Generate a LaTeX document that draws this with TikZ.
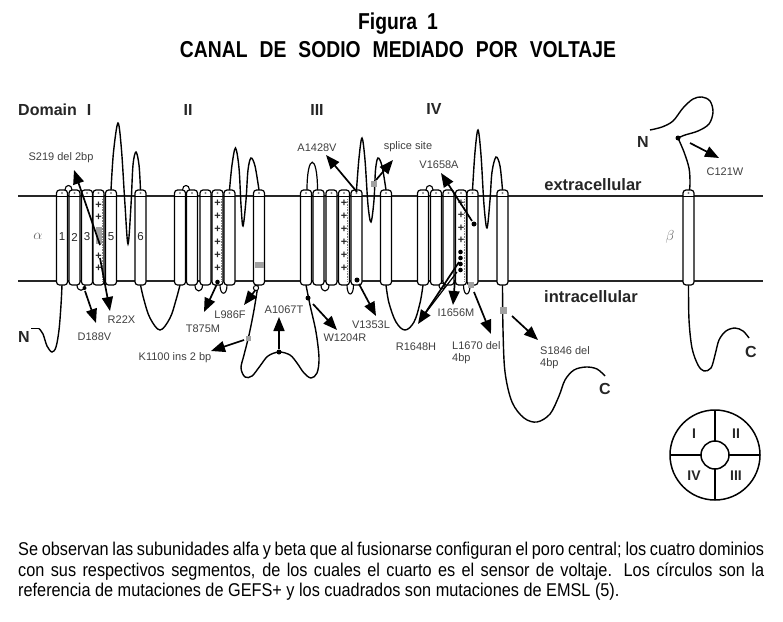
\documentclass[tikz,border=0pt]{standalone}
\usepackage{fontspec}
\setmainfont{Liberation Sans}
\newfontfamily\ttlfont{Liberation Sans}[FakeStretch=0.84]
\newfontfamily\capfont{Liberation Sans}[FakeStretch=0.88]
\usetikzlibrary{arrows.meta}
\definecolor{lbl}{HTML}{404040}
\definecolor{dk}{HTML}{262626}
\definecolor{gsq}{HTML}{A0A0A0}
\tikzset{
  memb/.style={line width=1.6pt, draw=dk},
  loopl/.style={line width=1.4pt, draw=black},
  cylbox/.style={line width=1.2pt, draw=black, fill=white, rounded corners=3pt},
  capl/.style={line width=0.8pt, draw=black},
  mut/.style={line width=1.7pt, draw=black, -{Triangle[length=14pt,width=11pt]}},
  lab/.style={font=\fontsize{11}{12.5}\selectfont, text=lbl, inner sep=0pt},
  blab/.style={font=\bfseries\fontsize{16}{18}\selectfont, text=dk, inner sep=0pt},
  plab/.style={font=\bfseries\fontsize{14}{16}\selectfont, text=dk, inner sep=0pt},
  numl/.style={font=\fontsize{11.5}{12}\selectfont, text=dk, inner sep=0pt},
  ttl/.style={font=\ttlfont\bfseries\fontsize{23}{25}\selectfont, inner sep=0pt},
  capt/.style={font=\capfont\fontsize{18.5}{20}\selectfont, inner sep=0pt, anchor=base west},
  gsqr/.style={fill=gsq, draw=none},
  bdot/.style={fill=black, draw=none},
  plus/.style={font=\bfseries\fontsize{11}{11}\selectfont, text=dk, inner sep=0pt},
}
\newcommand\cyl[1]{%
  \draw[cylbox] ({#1-5.5},190) rectangle ({#1+5.5},285);
  \draw[capl] ({#1-5.5},196) -- ({#1+5.5},196);
  \fill[gray] (#1,193) circle (1.1);
}
\newcommand\cylS[1]{%
  \cyl{#1}
  \draw[line width=0.6pt, densely dotted, gray] ({#1+3.4},199) -- ({#1+3.4},281);
}
\newcommand\pls[2]{\node[plus] at (#1,#2) {+};}
\begin{document}
\begin{tikzpicture}[x=1pt,y=-1pt]
\useasboundingbox (0,0) rectangle (783,621);
\fill[white] (0,0) rectangle (783,621);

% ---------- title ----------
\node[ttl] (title1) at (398,24) {Figura\hspace{10pt}1};
\node[ttl] (title2) at (398,50) {CANAL\hspace{12pt}DE\hspace{12pt}SODIO\hspace{12pt}MEDIADO\hspace{12pt}POR\hspace{12pt}VOLTAJE};

% ---------- membrane ----------
\draw[memb] (18,196) -- (763,196);
\draw[memb] (18,281) -- (763,281);

% ---------- extracellular loops ----------
\draw[loopl] plot[smooth, tension=0.55] coordinates {(111,190) (113.5,152) (118,123) (121.5,150) (125,205) (128,244) (131,205) (133,165) (136,152) (139,165) (140.5,190)};
\draw[loopl] plot[smooth, tension=0.55] coordinates {(229.5,190) (232,165) (235.5,148) (239,168) (241,205) (243,226) (246,200) (248,170) (251,158) (255,166) (259,190)};
\draw[loopl] plot[smooth, tension=0.55] coordinates {(356.5,190) (359,158) (362,138) (365,160) (368,205) (371,222) (374,200) (375.5,170) (378,158) (382,166) (386,190)};
\draw[loopl] plot[smooth, tension=0.55] coordinates {(472.5,190) (475,152) (478,130) (481,155) (484,205) (487,228) (490,200) (492,172) (496,157) (500,166) (502.5,190)};

% ---------- intracellular loops ----------
\draw[loopl] (31,328.5) -- (39,328.5);
\draw[loopl] plot[smooth, tension=0.55] coordinates {(39,328.5) (43,334) (47,346) (52,352) (56,347) (59,330) (61,305) (62,285)};
\draw[loopl] plot[smooth, tension=0.6] coordinates {(140.5,285) (144,300) (150,318) (160,330) (170,318) (176,300) (180,285)};
\draw[loopl] plot[smooth, tension=0.55] coordinates {(258,285) (254,310) (249,335) (244,355) (241,368) (245,377) (252,376) (260,366) (268,356) (279,352) (290,355) (297,363) (304,373) (311,378) (317,373) (319,358) (316,332) (310,305) (306,285)};
\draw[loopl] plot[smooth, tension=0.6] coordinates {(386,285) (389,303) (396,322) (405,330) (414,322) (420,303) (423,285)};
\draw[loopl] plot[smooth, tension=0.55] coordinates {(502.5,285) (503,330) (505,372) (512,402) (524,418) (537,422) (550,414) (559,396) (565,380) (574,370) (586,367) (597,369) (605,376)};

% beta subunit loops
\draw[loopl] plot[smooth, tension=0.55] coordinates {(650,130) (662,127) (673,121) (683,108) (693,99) (702,97) (710,101) (713,112) (709,124) (698,131) (685,135) (678,138)};
\draw[loopl] plot[smooth, tension=0.55] coordinates {(678,138) (684,152) (689,168) (690,182) (689.5,190)};
\draw[loopl] plot[smooth, tension=0.55] coordinates {(688.5,285) (689,320) (692,348) (698,365) (704,371) (711,368) (715,355) (719,340) (726,331) (735,328) (743,331) (749,338)};

% ---------- cylinders ----------
\foreach \x in {62,74.5,87,111,140.5,180,192,205.5,229.5,259,306,318.5,331.5,356.5,386,423,436,448.5,472.5,502.5,688.5} {\cyl{\x}}
\foreach \x in {98.5,217.5,344,461} {\cylS{\x}}

% top bumps
\draw[loopl, line width=1.1pt] (65,190) .. controls (65,184) and (72,184) .. (72,190);
\draw[loopl, line width=1.1pt] (182.5,190) .. controls (182.5,184) and (189.5,184) .. (189.5,190);
\draw[loopl, line width=1.2pt] (307,190) .. controls (307,153) and (317.5,153) .. (317.5,190);
\draw[loopl, line width=1.1pt] (426,190) .. controls (426,184) and (433,184) .. (433,190);
% bottom bumps
\draw[loopl, line width=1.1pt] (77,285) .. controls (77,292) and (85,292) .. (85,285);
\draw[loopl, line width=1.1pt] (195,285) .. controls (195,293) and (202.5,293) .. (202.5,285);
\draw[loopl, line width=1.1pt] (220,285) .. controls (220,296) and (227,296) .. (227,285);
\draw[loopl, line width=1.1pt] (321,285) .. controls (321,293) and (329,293) .. (329,285);
\draw[loopl, line width=1.1pt] (347,285) .. controls (347,297) and (353.5,297) .. (353.5,285);
\draw[loopl, line width=1.1pt] (463.5,285) .. controls (463.5,297) and (470,297) .. (470,285);
\draw[line width=1pt, fill=white] (442,286) circle (3);
\draw[line width=1pt, fill=white] (256,288) circle (2.6);

% ---------- S4 charges ----------
\foreach \y in {205,217,256,268} {\pls{98.5}{\y}}
\foreach \y in {203,216,229,242,255,268} {\pls{217.5}{\y}}
\foreach \y in {203,216,229,242,255,268} {\pls{344}{\y}}
\foreach \y in {203,215,228,240} {\pls{461}{\y}}
\foreach \y in {252,258,264,270} {\fill[bdot] (460.5,\y) circle (2.3);}

% segment numbers
\node[numl] (n1) at (62,237) {1};
\node[numl] (n2) at (74.5,237) {2};
\node[numl] (n3) at (87,237) {3};
\node[numl] (n5) at (111,237) {5};
\node[numl] (n6) at (140.5,237) {6};

% ---------- markers ----------
\fill[gsqr] (95.5,227) rectangle (102,244);
\fill[gsqr] (254.5,262) rectangle (263.5,268);
\fill[gsqr] (371,181) rectangle (377,187);
\fill[gsqr] (245.5,335.5) rectangle (250.5,340.5);
\fill[gsqr] (468,282) rectangle (474,288);
\fill[gsqr] (499.5,306.5) rectangle (506.5,313.5);
\fill[bdot] (84.5,288) circle (2);
\fill[bdot] (217.5,282) circle (2.3);
\fill[bdot] (279,352) circle (2.5);
\fill[bdot] (308,298) circle (2.5);
\fill[bdot] (357,280) circle (2.5);
\fill[bdot] (474,224) circle (2.5);
\fill[bdot] (678,138) circle (2.5);

% ---------- mutation arrows ----------
\draw[mut] (100,245) -- (74,170);
\draw[mut] (100,258) -- (110,311);
\draw[mut] (85,291) -- (96,323);
\draw[mut] (216.5,285) -- (204,312);
\draw[mut] (255.5,290) -- (244,305);
\draw[mut] (244,340) -- (211,351);
\draw[mut] (279,349) -- (279,317);
\draw[mut] (313,304) -- (337,330);
\draw[mut] (357,192) -- (326,155);
\draw[mut] (376,180) -- (393,160);
\draw[mut] (359,284) -- (376,316);
\draw[mut] (459,262) -- (418,324);
\draw[line width=1.2pt] (457,272) -- (424,315);
\draw[mut] (455,280) -- (453,305);
\draw[mut] (474,292) -- (491,334);
\draw[mut] (512,316) -- (538,340);
\draw[mut] (472,221) -- (441,173);
\draw[mut] (690,143) -- (719,158);

% ---------- mutation labels ----------
\node[lab] (mS219) at (61,158) {S219 del 2bp};
\node[lab] (mR22X) at (121.5,320) {R22X};
\node[lab] (mD188V) at (94.5,337) {D188V};
\node[lab] (mT875M) at (203,329) {T875M};
\node[lab] (mL986F) at (230,315) {L986F};
\node[lab] (mK1100) at (175,358) {K1100 ins 2 bp};
\node[lab] (mA1067T) at (284,310) {A1067T};
\node[lab] (mW1204R) at (345,338) {W1204R};
\node[lab] (mV1353L) at (371,325) {V1353L};
\node[lab] (mA1428V) at (317,148) {A1428V};
\node[lab] (msplice) at (408,147) {splice site};
\node[lab] (mV1658A) at (439,165) {V1658A};
\node[lab] (mR1648H) at (416,347) {R1648H};
\node[lab] (mI1656M) at (456,313) {I1656M};
\node[lab, align=left, anchor=north west] (mL1670) at (452,341) {L1670 del\\4bp};
\node[lab, align=left, anchor=north west] (mS1846) at (540,346) {S1846 del\\4bp};
\node[lab] (mC121W) at (725,172) {C121W};

% ---------- other labels ----------
\node[blab, anchor=west] (dom1) at (18,110) {Domain\hspace{10pt}I};
\node[blab] (dom2) at (188,110) {II};
\node[blab] (dom3) at (317,110) {III};
\node[blab] (dom4) at (434,109) {IV};
\node[blab, font=\bfseries\fontsize{16.5}{18}\selectfont] (extra) at (593,185) {extracellular};
\node[blab, font=\bfseries\fontsize{16.5}{18}\selectfont] (intra) at (591,297) {intracellular};
\node[text=gray!80!black, font=\fontsize{14}{16}\selectfont, inner sep=0pt] (alpha) at (38,236) {$\alpha$};
\node[text=gray!80!black, font=\fontsize{14}{16}\selectfont, inner sep=0pt] (beta) at (670,237) {$\beta$};
\node[blab] (Nal) at (24,337) {N};
\node[blab] (Cal) at (605,389) {C};
\node[blab] (Nbe) at (643,142) {N};
\node[blab] (Cbe) at (751,352) {C};

% ---------- pore scheme ----------
\draw[line width=1.5pt] (715,455) circle (45);
\draw[line width=1.5pt] (715,455) circle (14);
\draw[line width=1.5pt] (715,410) -- (715,441);
\draw[line width=1.5pt] (715,469) -- (715,500);
\draw[line width=1.5pt] (670,455) -- (701,455);
\draw[line width=1.5pt] (729,455) -- (760,455);
\node[plab] (pI) at (694,434) {I};
\node[plab] (pII) at (736,434) {II};
\node[plab] (pIV) at (694,476) {IV};
\node[plab] (pIII) at (736,476) {III};

% ---------- caption ----------
\node[capt] (cap1) at (18,555) {\makebox[746pt][s]{Se observan las subunidades alfa y beta que al fusionarse configuran el poro central; los cuatro dominios}};
\node[capt] (cap2) at (18,576) {\makebox[746pt][s]{con sus respectivos segmentos, de los cuales el cuarto es el sensor de voltaje. Los círculos son la}};
\node[capt] (cap3) at (18,596) {referencia de mutaciones de GEFS+ y los cuadrados son mutaciones de EMSL (5).};
\end{tikzpicture}
\end{document}
